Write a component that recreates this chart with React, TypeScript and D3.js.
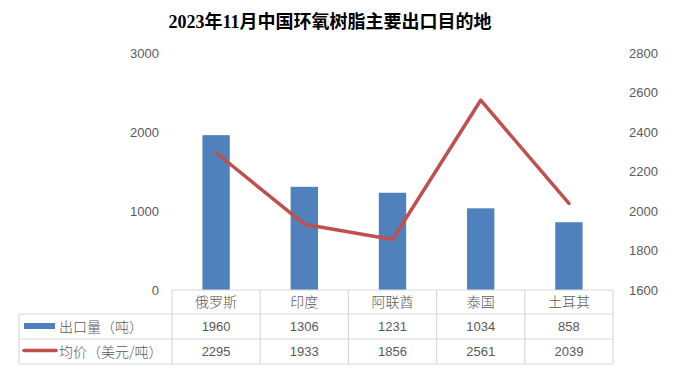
import React from "react";
import * as d3 from "d3";

const categories = ["俄罗斯", "印度", "阿联酋", "泰国", "土耳其"];
const volume = [1960, 1306, 1231, 1034, 858];
const price = [2295, 1933, 1856, 2561, 2039];
const leftTicks = [0, 1000, 2000, 3000];
const rightTicks = [1600, 1800, 2000, 2200, 2400, 2600, 2800];
const seriesNames = ["出口量（吨）", "均价（美元/吨）"];
const title = "2023年11月中国环氧树脂主要出口目的地";

const W = 698, H = 376;
const plotL = 172, plotR = 613, plotT = 53, plotB = 290;
const rowLines = [290, 314, 339, 364];
const tableL = 19;
const BLUE = "#4F81BD", RED = "#C0504D", GRID = "#D9D9D9", TXT = "#595959";
const numFont = "'Liberation Sans', Arial, sans-serif";
const cjkFont = "'Noto Sans CJK SC', sans-serif";

export default function App() {
  const x = d3.scaleBand<string>().domain(categories).range([plotL, plotR]);
  const yL = d3.scaleLinear().domain([0, 3000]).range([plotB, plotT]);
  const yR = d3.scaleLinear().domain([1600, 2800]).range([plotB, plotT]);
  const barW = x.bandwidth() * 0.31;
  const line = d3
    .line<number>()
    .x((_, i) => (x(categories[i]) as number) + x.bandwidth() / 2)
    .y((d) => yR(d));

  const rows = [volume, price];
  return (
    <svg
      width={W}
      height={H}
      style={{ position: "absolute", left: 0, top: 0, background: "#fff" }}
    >
      <rect x={0} y={0} width={W} height={H} fill="#fff" />
      <text
        x={330}
        y={28}
        textAnchor="middle"
        fontFamily={"'Liberation Serif', 'Noto Sans CJK SC', serif"}
        fontWeight="bold"
        fontSize={18}
        fill="#000"
      >
        {title}
      </text>
      {leftTicks.map((t) => (
        <text
          key={"l" + t}
          x={159}
          y={yL(t)}
          dy="0.35em"
          textAnchor="end"
          fontFamily={numFont}
          fontSize={13}
          fill={TXT}
        >
          {t}
        </text>
      ))}
      {rightTicks.map((t) => (
        <text
          key={"r" + t}
          x={629}
          y={yR(t)}
          dy="0.35em"
          textAnchor="start"
          fontFamily={numFont}
          fontSize={13}
          fill={TXT}
        >
          {t}
        </text>
      ))}
      {volume.map((v, i) => {
        const cx = (x(categories[i]) as number) + x.bandwidth() / 2;
        return (
          <rect
            key={"b" + i}
            x={cx - barW / 2}
            y={yL(v)}
            width={barW}
            height={yL(0) - yL(v)}
            fill={BLUE}
          />
        );
      })}
      <path
        d={line(price) || ""}
        fill="none"
        stroke={RED}
        strokeWidth={3.5}
        strokeLinecap="round"
        strokeLinejoin="round"
      />
      {/* table */}
      <g stroke={GRID} strokeWidth={1.2} fill="none">
        <line x1={plotL} x2={plotR} y1={rowLines[0]} y2={rowLines[0]} />
        <line x1={tableL} x2={plotR} y1={rowLines[1]} y2={rowLines[1]} />
        <line x1={tableL} x2={plotR} y1={rowLines[2]} y2={rowLines[2]} />
        <line x1={tableL} x2={plotR} y1={rowLines[3]} y2={rowLines[3]} />
        <line x1={tableL} x2={tableL} y1={rowLines[1]} y2={rowLines[3]} />
        {categories.map((c) => (
          <line
            key={"v" + c}
            x1={x(c) as number}
            x2={x(c) as number}
            y1={rowLines[0]}
            y2={rowLines[3]}
          />
        ))}
        <line x1={plotR} x2={plotR} y1={rowLines[0]} y2={rowLines[3]} />
      </g>
      {categories.map((c) => (
        <text
          key={"c" + c}
          x={(x(c) as number) + x.bandwidth() / 2}
          y={(rowLines[0] + rowLines[1]) / 2}
          dy="0.36em"
          textAnchor="middle"
          fontFamily={cjkFont}
          fontWeight={300}
          fontSize={14}
          fill={TXT}
        >
          {c}
        </text>
      ))}
      {rows.map((r, ri) =>
        r.map((v, i) => (
          <text
            key={"t" + ri + "-" + i}
            x={(x(categories[i]) as number) + x.bandwidth() / 2}
            y={(rowLines[ri + 1] + rowLines[ri + 2]) / 2}
            dy="0.36em"
            textAnchor="middle"
            fontFamily={numFont}
            fontSize={13}
            fill={TXT}
          >
            {v}
          </text>
        ))
      )}
      <rect x={24} y={323} width={31} height={6} fill={BLUE} />
      <line
        x1={24}
        x2={56}
        y1={350.5}
        y2={350.5}
        stroke={RED}
        strokeWidth={3.5}
        strokeLinecap="round"
      />
      {seriesNames.map((s, i) => (
        <text
          key={"s" + i}
          x={59}
          y={(rowLines[i + 1] + rowLines[i + 2]) / 2}
          dy="0.36em"
          fontFamily={cjkFont}
          fontWeight={300}
          fontSize={14}
          fill={TXT}
        >
          {s}
        </text>
      ))}
    </svg>
  );
}
